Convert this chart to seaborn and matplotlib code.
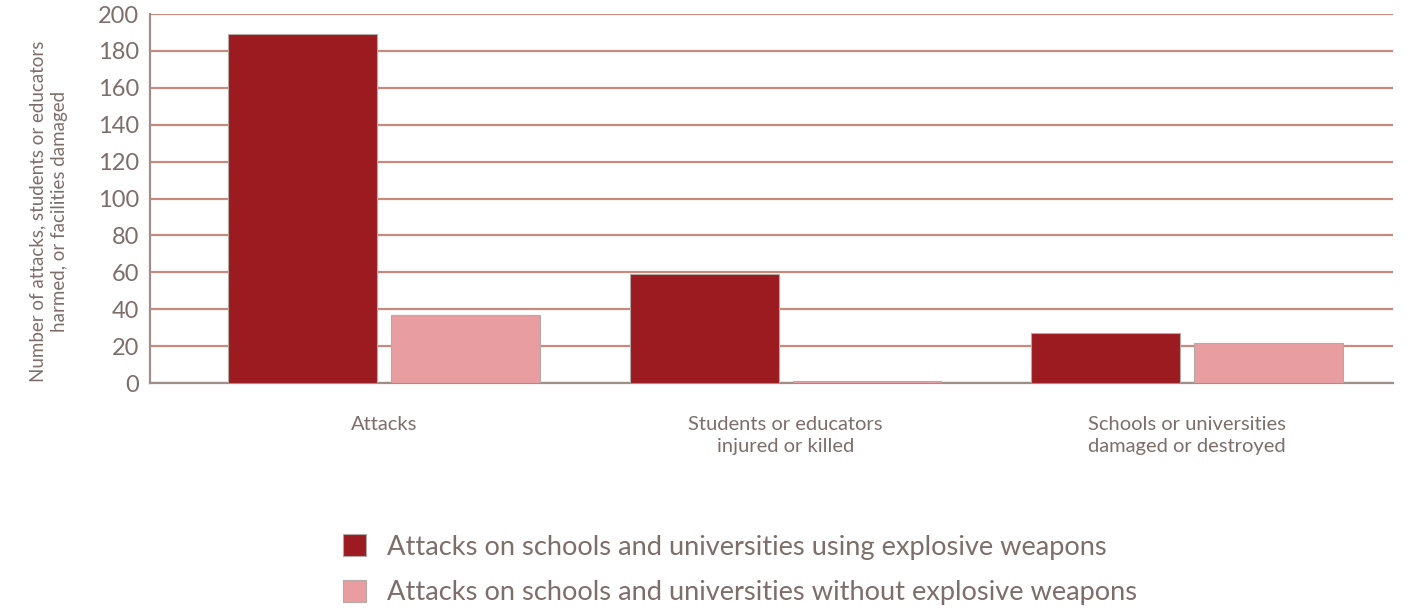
import matplotlib
matplotlib.use("Agg")
import matplotlib.pyplot as plt
import seaborn as sns
import pandas as pd

categories = ["Attacks", "Students or educators\ninjured or killed", "Schools or universities\ndamaged or destroyed"]
series_names = ["Attacks on schools and universities using explosive weapons",
                "Attacks on schools and universities without explosive weapons"]
explosive = [189, 59, 27]
non_explosive = [37, 1, 22]
yticks = [0, 20, 40, 60, 80, 100, 120, 140, 160, 180, 200]

rows = []
for c, v in zip(categories, explosive):
    rows.append({"category": c, "series": series_names[0], "value": v})
for c, v in zip(categories, non_explosive):
    rows.append({"category": c, "series": series_names[1], "value": v})
df = pd.DataFrame(rows)

sns.set_theme(style="white")
plt.rcParams['font.family'] = ['Lato', 'DejaVu Sans']

text_col = "#7d6e6a"
grid_col = "#c98a7e"
palette = {series_names[0]: "#9b1b20", series_names[1]: "#e89da0"}

fig = plt.figure(figsize=(14.07, 6.12), dpi=100)
ax = fig.add_axes([0.1066, 0.374, 0.8834, 0.603])

sns.barplot(data=df, x="category", y="value", hue="series", order=categories,
            hue_order=series_names, palette=palette, saturation=1, width=0.812, gap=0.086,
            edgecolor="#b5a9a6", linewidth=0.8, ax=ax, legend=True, zorder=3)

ax.set_ylim(0, 200)
ax.set_xlim(-0.583, 2.513)
ax.set_yticks(yticks)
ax.set_yticklabels([str(t) for t in yticks], fontsize=17, color=text_col)
ax.yaxis.grid(True, color=grid_col, linewidth=1.6, zorder=0)
ax.set_axisbelow(True)
ax.tick_params(axis="both", length=0, pad=8)
ax.tick_params(axis="x", labelsize=14.5, colors=text_col, pad=24)
for lab in ax.get_xticklabels():
    lab.set_linespacing(1.3)
ax.set_xlabel("")
ax.set_ylabel("Number of attacks, students or educators\nharmed, or facilities damaged",
              fontsize=13.5, color=text_col, linespacing=1.3)
ax.yaxis.set_label_coords(-0.066, 0.465)

for s in ["top", "right"]:
    ax.spines[s].set_visible(False)
ax.spines["left"].set_color("#a08e89")
ax.spines["left"].set_linewidth(1.6)
ax.spines["bottom"].set_color("#a08e89")
ax.spines["bottom"].set_linewidth(1.6)

handles, labels = ax.get_legend_handles_labels()
ax.get_legend().remove()
leg = fig.legend(handles, labels, loc="center", bbox_to_anchor=(0.526, 0.069),
                 frameon=False, fontsize=19.6, handlelength=0.85, handleheight=0.85,
                 labelspacing=0.75, handletextpad=0.75)
for t in leg.get_texts():
    t.set_color(text_col)

fig.savefig("out.png", dpi=100)
